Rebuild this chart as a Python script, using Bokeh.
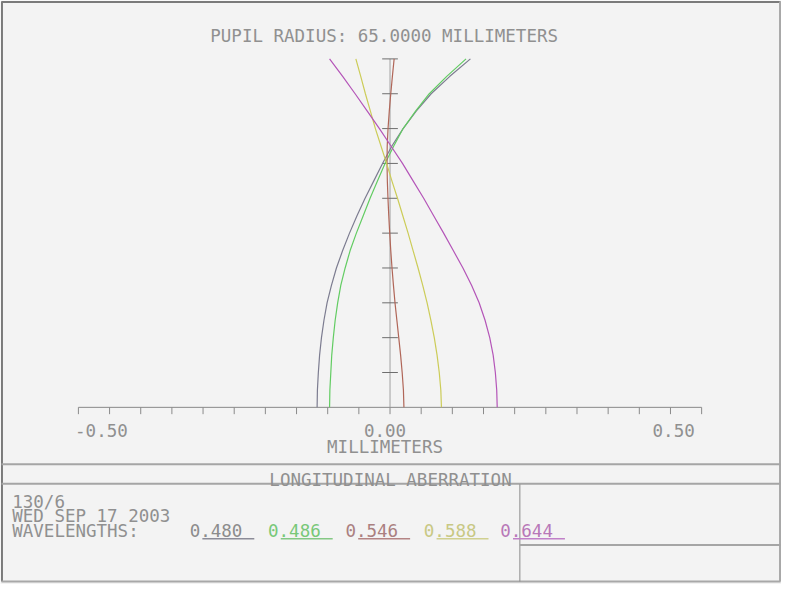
from bokeh.plotting import figure
from bokeh.models import Range1d
from bokeh.core.properties import value
from bokeh.embed import file_html
from bokeh.resources import INLINE

# ---------------- data ----------------
pupil = [0.00, 0.05, 0.10, 0.15, 0.20, 0.25, 0.30, 0.35, 0.40, 0.45, 0.50,
         0.55, 0.60, 0.65, 0.70, 0.75, 0.80, 0.85, 0.90, 0.95, 1.00]
wavelengths = ["0.480", "0.486", "0.546", "0.588", "0.644"]
aberr_480 = [-0.117, -0.1165, -0.115, -0.113, -0.110, -0.106, -0.101, -0.094, -0.086, -0.076, -0.065,
             -0.053, -0.040, -0.026, -0.012, 0.003, 0.021, 0.042, 0.066, 0.096, 0.129]
aberr_486 = [-0.097, -0.0965, -0.095, -0.0935, -0.091, -0.088, -0.084, -0.079, -0.072, -0.064, -0.054,
             -0.043, -0.032, -0.020, -0.008, 0.006, 0.021, 0.041, 0.063, 0.091, 0.122]
aberr_546 = [0.0223, 0.0215, 0.0195, 0.0170, 0.0140, 0.0110, 0.0080, 0.0055, 0.0032, 0.0012, -0.0005,
             -0.0020, -0.0033, -0.0043, -0.0048, -0.0045, -0.0032, -0.0012, 0.0012, 0.0038, 0.0066]
aberr_588 = [0.0825, 0.0815, 0.0790, 0.0755, 0.0710, 0.0655, 0.0595, 0.0525, 0.0450, 0.0370, 0.0290,
             0.0205, 0.0120, 0.0030, -0.0055, -0.0145, -0.0235, -0.0315, -0.0395, -0.0470, -0.0548]
aberr_644 = [0.172, 0.1712, 0.169, 0.1655, 0.160, 0.1525, 0.143, 0.131, 0.117, 0.1015, 0.086,
             0.070, 0.054, 0.037, 0.020, 0.0015, -0.017, -0.0365, -0.056, -0.076, -0.097]
series = [aberr_480, aberr_486, aberr_546, aberr_588, aberr_644]

x_ticks = [-0.50, -0.45, -0.40, -0.35, -0.30, -0.25, -0.20, -0.15, -0.10, -0.05, 0.0,
           0.05, 0.10, 0.15, 0.20, 0.25, 0.30, 0.35, 0.40, 0.45, 0.50]
x_label_values = [-0.50, 0.0, 0.50]
x_label_texts = ["-0.50", "0.00", "0.50"]
y_ticks = [0.1, 0.2, 0.3, 0.4, 0.5, 0.6, 0.7, 0.8, 0.9, 1.0]

title_text = "PUPIL RADIUS: 65.0000 MILLIMETERS"
x_axis_title = "MILLIMETERS"
box_title = "LONGITUDINAL ABERRATION"
info_lines = ["130/6", "WED SEP 17 2003", "WAVELENGTHS:"]

# ---------------- styles / layout ----------------
curve_colors = ["#7c7c90", "#62cc62", "#b06658", "#cccc58", "#b455b8"]
label_colors = ["#8c8c8c", "#78c878", "#aa8080", "#c8c884", "#b878b8"]
under_colors = ["#8c8c98", "#84c884", "#b48484", "#d0d090", "#c080c8"]
TEXT = "#909090"
BG = "#f3f3f3"
FONT = value("DejaVu Sans Mono")
FS = "17.5px"

W, H = 781, 584
REF_W, REF_H = 797, 600
X0_PX, PX_PER_MM = 397.5, 636.0
Y0_PX, PX_PER_PUPIL = 418.0, 358.0


def X(px):
    return (px - X0_PX) / PX_PER_MM


def Y(py):
    return (Y0_PX - py) / PX_PER_PUPIL


p = figure(width=W, height=H, output_backend="svg", toolbar_location=None,
           x_range=Range1d(X(0), X(REF_W)), y_range=Range1d(Y(REF_H), Y(0)),
           x_axis_type=None, y_axis_type=None, min_border=0)
p.grid.visible = False
p.outline_line_color = None
p.background_fill_color = BG
p.border_fill_color = BG

# ---- frame lines (reference pixel layout) ----
frame = [
    ((1, 1.5), (796, 1.5), "#7a7a7a", 2),
    ((1.5, 1), (1.5, 597), "#7a7a7a", 2),
    ((795.5, 1), (795.5, 597), "#a8a8a8", 2),
    ((1, 597), (796, 597), "#a8a8a8", 2),
    ((1, 476.5), (796, 476.5), "#a5a5a5", 2),
    ((1, 496.5), (796, 496.5), "#a5a5a5", 2),
    ((530, 497), (530, 597), "#8a8a8a", 1),
    ((530, 559.5), (796, 559.5), "#a5a5a5", 2),
]
for (a, b, c, w) in frame:
    p.segment(x0=[X(a[0])], y0=[Y(a[1])], x1=[X(b[0])], y1=[Y(b[1])],
              line_color=c, line_width=w)

# ---- axes ----
p.segment(x0=[x_ticks[0]], y0=[0], x1=[x_ticks[-1]], y1=[0], line_color="#8a8a8a", line_width=1)
tick_len = 7 / PX_PER_PUPIL
p.segment(x0=x_ticks, y0=[0] * len(x_ticks), x1=x_ticks, y1=[-tick_len] * len(x_ticks),
          line_color="#8a8a8a", line_width=1)
p.segment(x0=[0], y0=[0], x1=[0], y1=[y_ticks[-1]], line_color="#a0a0a0", line_width=1)
half = 8 / PX_PER_MM
p.segment(x0=[-half] * len(y_ticks), y0=y_ticks, x1=[half] * len(y_ticks), y1=y_ticks,
          line_color="#6e6e6e", line_width=1)

label_offsets = [23, -5, -28]
for v, t, off in zip(x_label_values, x_label_texts, label_offsets):
    p.text(x=[v], y=[Y(441.5)], text=[t], x_offset=off, text_align="center",
           text_baseline="alphabetic", text_font=FONT, text_font_size=FS, text_color=TEXT)
p.text(x=[0], y=[Y(459)], text=[x_axis_title], x_offset=-5, text_align="center",
       text_baseline="alphabetic", text_font=FONT, text_font_size=FS, text_color=TEXT)

# ---- curves ----
for vals, col in zip(series, curve_colors):
    p.line(x=vals, y=pupil, line_color=col, line_width=1.2)

# ---- titles / info ----
p.text(x=[X(391.5)], y=[Y(36.5)], text=[title_text], text_align="center",
       text_baseline="alphabetic", text_font=FONT, text_font_size=FS, text_color=TEXT)
p.text(x=[X(398)], y=[Y(492.5)], text=[box_title], text_align="center",
       text_baseline="alphabetic", text_font=FONT, text_font_size=FS, text_color=TEXT)
info_base = [515, 530, 545]
p.text(x=[X(12)] * 3, y=[Y(b) for b in info_base], text=info_lines, text_align="left",
       text_baseline="alphabetic", text_font=FONT, text_font_size=FS, text_color=TEXT)

# ---- wavelength legend ----
legend_left = [193, 273, 352, 432, 510]
for lx, wl, lc, uc in zip(legend_left, wavelengths, label_colors, under_colors):
    p.text(x=[X(lx)], y=[Y(545)], text=[wl], text_align="left", text_baseline="alphabetic",
           text_font=FONT, text_font_size=FS, text_color=lc)
    p.segment(x0=[X(lx + 13)], y0=[Y(553)], x1=[X(lx + 66)], y1=[Y(553)],
              line_color=uc, line_width=1.5)

open("out.html", "w").write(file_html(p, INLINE))
